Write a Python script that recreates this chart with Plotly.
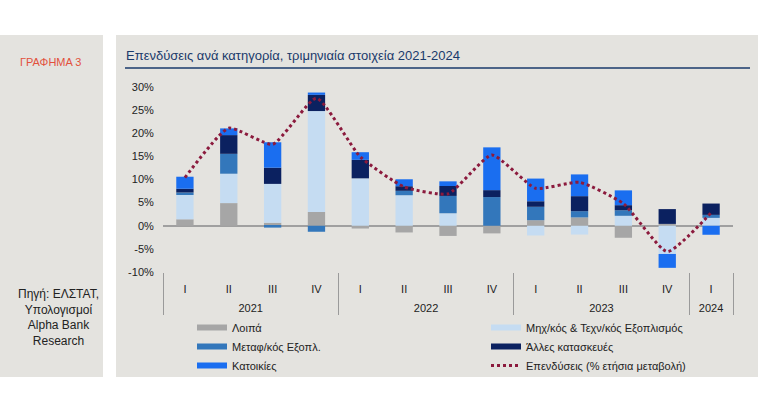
import plotly.graph_objects as go

# ---------------- data ----------------
years = ["2021"] * 4 + ["2022"] * 4 + ["2023"] * 4 + ["2024"]
quarters = ["I", "II", "III", "IV"] * 3 + ["I"]

loipa = [1.4, 4.9, 0.65, 3.0, -0.6, -1.45, -2.2, -1.65, 1.2, 1.8, -2.6, 0.4, 0.0]
mixanologikos = [5.4, 6.35, 8.4, 21.8, 10.25, 6.6, 2.7, 0.0, -2.1, -1.9, 2.15, -6.1, 1.7]
metaforikos = [0.4, 4.3, -0.4, -1.3, 0.0, 0.95, 3.75, 6.2, 2.9, 1.35, 1.2, 0.0, 0.65]
alles_kataskeves = [0.8, 4.05, 3.5, 3.5, 4.0, 1.0, 2.15, 1.5, 1.2, 3.25, 1.1, 3.2, 2.45]
katoikies = [2.6, 1.45, 5.5, 0.5, 1.65, 1.5, 1.0, 9.25, 4.9, 4.7, 3.2, -3.0, -1.95]
ependyseis = [10.4, 21.1, 17.6, 27.6, 14.9, 8.4, 6.9, 15.3, 8.1, 9.4, 4.8, -5.6, 2.8]

y_tickvals = [-10, -5, 0, 5, 10, 15, 20, 25, 30]
y_ticktext = ["-10%", "-5%", "0%", "5%", "10%", "15%", "20%", "25%", "30%"]

series_names = ["Λοιπά", "Μηχ/κός & Τεχν/κός Εξοπλισμός", "Μεταφ/κός Εξοπλ.",
                "Άλλες κατασκευές", "Κατοικίες"]
line_name = "Επενδύσεις (% ετήσια μεταβολή)"

# ---------------- style ----------------
W, H = 773, 397
L, R, T, B = 163, 40, 87, 125
PW, PH = W - L - R, H - T - B
FONT = "Liberation Sans, Arial, sans-serif"
PANEL = "#e4e3df"
colors = ["#a6a6a6", "#c5dcf2", "#3377bb", "#0b2160", "#1a6ef0"]
LINE_COLOR = "#8b1a3d"


def px(x):
    return (x - L) / PW


def py(y):
    return (H - B - y) / PH


# year group labels are pushed one line down to leave room below the quarters
year_labels = ["<br>" + y for y in years]
x_multi = [year_labels, quarters]
fig = go.Figure()

all_series = [loipa, mixanologikos, metaforikos, alles_kataskeves, katoikies]
for name, vals, col in zip(series_names, all_series, colors):
    fig.add_trace(go.Bar(x=x_multi, y=vals, name=name, marker_color=col,
                         marker_line_width=0, showlegend=False))

# legend proxies (thick line swatches)
legend_of = ["legend", "legend2", "legend", "legend2", "legend"]
for i, (name, col) in enumerate(zip(series_names, colors)):
    fig.add_trace(go.Scatter(x=[[year_labels[0]], [quarters[0]]], y=[None], mode="lines",
                             name=name, line=dict(color=col, width=6),
                             legend=legend_of[i], legendgroup=f"g{i}",
                             hoverinfo="skip"))

fig.add_trace(go.Scatter(x=x_multi, y=ependyseis, name=line_name, mode="lines",
                         line=dict(color=LINE_COLOR, width=3, dash="3px,3px",
                                   shape="spline", smoothing=0.5),
                         legend="legend2", legendgroup="g5"))

shapes = [
    dict(type="rect", xref="paper", yref="paper", x0=px(0), x1=px(103), y0=py(377), y1=py(35),
         fillcolor=PANEL, line_width=0, layer="below"),
    dict(type="rect", xref="paper", yref="paper", x0=px(116), x1=px(758), y0=py(377), y1=py(35),
         fillcolor=PANEL, line_width=0, layer="below"),
    dict(type="line", xref="paper", yref="paper", x0=px(125), x1=px(750), y0=py(68), y1=py(68),
         line=dict(color="#1a3a6b", width=1.5)),
]

annotations = [
    dict(text="Επενδύσεις ανά κατηγορία, τριμηνιαία στοιχεία 2021-2024", xref="paper", yref="paper",
         x=px(124), y=py(56), xanchor="left", yanchor="middle", showarrow=False,
         font=dict(family=FONT, size=13, color="#1a3a6b")),
    dict(text="ΓΡΑΦΗΜΑ 3", xref="paper", yref="paper", x=px(50), y=py(62),
         xanchor="center", yanchor="middle", showarrow=False,
         font=dict(family=FONT, size=11, color="#e2503c")),
    dict(text="Πηγή: ΕΛΣΤΑΤ,<br>Υπολογισμοί<br>Alpha Bank<br>Research", xref="paper", yref="paper",
         x=px(58), y=py(317), xanchor="center", yanchor="middle", showarrow=False, align="center",
         font=dict(family=FONT, size=12, color="#222222")),
]

legend_common = dict(orientation="v", xanchor="left", yanchor="top", bgcolor="rgba(0,0,0,0)",
                     font=dict(family=FONT, size=11, color="#222222"), itemwidth=30,
                     tracegroupgap=2, traceorder="normal", itemclick=False)

fig.update_layout(
    width=W, height=H,
    margin=dict(l=L, r=R, t=T, b=B, autoexpand=False),
    paper_bgcolor="white", plot_bgcolor="rgba(0,0,0,0)",
    barmode="relative", bargap=0.605,
    font=dict(family=FONT, size=11, color="#222222"),
    shapes=shapes, annotations=annotations,
    legend=dict(x=px(192), y=py(313), **legend_common),
    legend2=dict(x=px(486), y=py(313), **legend_common),
    xaxis=dict(type="multicategory", showgrid=False, showline=False, zeroline=False,
               ticks="", ticklabelstandoff=9,
               showdividers=True, dividercolor="#9a9a9a", dividerwidth=1,
               tickfont=dict(family=FONT, size=11, color="#222222")),
    yaxis=dict(range=[-10, 30], tickvals=y_tickvals, ticktext=y_ticktext, showgrid=False,
               zeroline=True, zerolinecolor="#a0a0a0", zerolinewidth=2,
               ticks="outside", ticklen=6, tickcolor="rgba(0,0,0,0)",
               tickfont=dict(family=FONT, size=11, color="#222222")),
)

fig.write_html("out.html", config={"displayModeBar": False},
               post_script="document.body.style.margin='0';document.body.style.overflow='hidden';")
